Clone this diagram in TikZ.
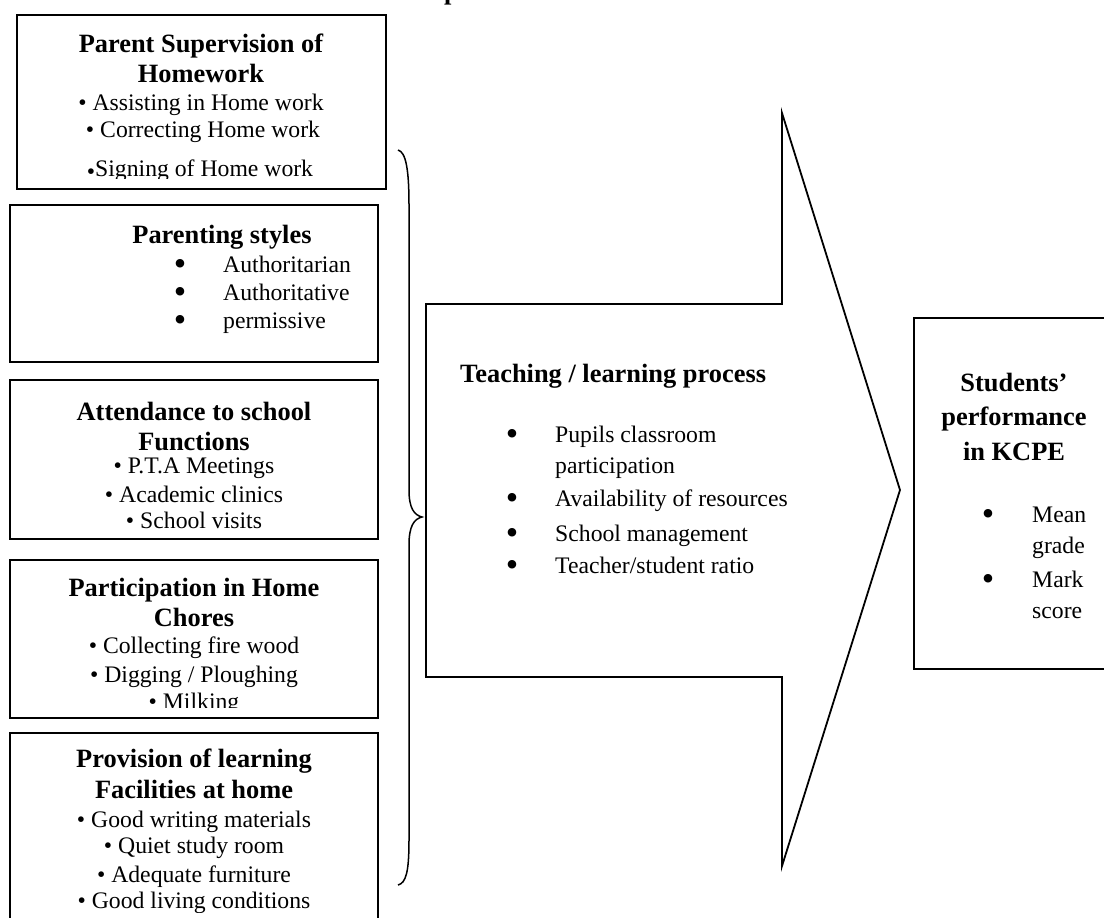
\documentclass[tikz,border=0pt]{standalone}
\usepackage{fontspec}
\setmainfont{Liberation Serif}
\newcommand{\bigbul}{\raisebox{-3pt}[13pt][0pt]{\scalebox{1.5}{•}}}
\begin{document}
\begin{tikzpicture}[x=1pt,y=-1pt,
  box/.style={draw, line width=1.8pt, inner sep=0pt, outer sep=0pt},
  ttl/.style={font=\fontsize{26.4pt}{30pt}\selectfont\bfseries, anchor=base, inner sep=0pt},
  ttw/.style={ttl, anchor=base west},
  txt/.style={font=\fontsize{23.7pt}{28pt}\selectfont, anchor=base, inner sep=0pt},
  txw/.style={txt, anchor=base west},
  shape line/.style={line width=1.8pt, line join=miter},
  brace line/.style={line width=1.5pt}]
\useasboundingbox (0,0) rectangle (1104,918);
\clip (0,0) rectangle (1104,918);

% cut-off heading fragment
\node[ttw] (frag) at (444,-1) {p};

% ---- box 1
\node[box, minimum width=369pt, minimum height=174pt] (b1) at (201.5,102) {};
\begin{scope}
\clip (17,15) rectangle (386,178);
\node[ttl] (b1a) at (201,52) {Parent Supervision of};
\node[ttl] (b1b) at (201,82) {Homework};
\node[txt] (b1c) at (201,110) {• Assisting in Home work};
\node[txt] (b1d) at (203,137) {• Correcting Home work};
\node[txt] (b1e) at (200,176) {\raisebox{-3.5pt}{•}Signing of Home work};
\end{scope}

% ---- box 2
\node[box, minimum width=368pt, minimum height=157pt] (b2) at (194,283.5) {};
\node[ttl] (b2a) at (222,243) {Parenting styles};
\foreach \y/\t [count=\i] in {272/Authoritarian, 300/Authoritative, 328/permissive}{
  \node[txt] (b2u\i) at (180,\y) {\bigbul};
  \node[txw] (b2t\i) at (223,\y) {\t};
}

% ---- box 3
\node[box, minimum width=368pt, minimum height=159pt] (b3) at (194,459.5) {};
\node[ttl] (b3a) at (194,420) {Attendance to school};
\node[ttl] (b3b) at (194,450) {Functions};
\node[txt] (b3c) at (194,473) {• P.T.A Meetings};
\node[txt] (b3d) at (194,502) {• Academic clinics};
\node[txt] (b3e) at (194,528) {• School visits};

% ---- box 4
\node[box, minimum width=368pt, minimum height=158pt] (b4) at (194,639) {};
\begin{scope}
\clip (10,560) rectangle (378,707);
\node[ttl] (b4a) at (194,596) {Participation in Home};
\node[ttl] (b4b) at (194,626) {Chores};
\node[txt] (b4c) at (194,653) {• Collecting fire wood};
\node[txt] (b4d) at (194,682) {• Digging / Ploughing};
\node[txt] (b4e) at (194,709) {• Milking};
\end{scope}

% ---- box 5
\node[box, minimum width=368pt, minimum height=217pt] (b5) at (194,841.5) {};
\begin{scope}
\clip (10,733) rectangle (378,912);
\node[ttl] (b5a) at (194,767) {Provision of learning};
\node[ttl] (b5b) at (194,798) {Facilities at home};
\node[txt] (b5c) at (194,827) {• Good writing materials};
\node[txt] (b5d) at (194,853) {• Quiet study room};
\node[txt] (b5e) at (194,882) {• Adequate furniture};
\node[txt] (b5f) at (194,908) {• Good living conditions};
\end{scope}

% ---- brace
\draw[brace line] (398,150) .. controls (406,152) and (409,170) .. (409,205)
  -- (409,490) .. controls (409,508) and (414,515) .. (422,517)
  .. controls (414,519) and (409,526) .. (409,545)
  -- (409,840) .. controls (409,872) and (406,883) .. (398,885);

% ---- big arrow
\draw[shape line] (426,304) -- (782,304) -- (782,113) -- (900,490) -- (782,866)
  -- (782,677) -- (426,677) -- cycle;
\node[ttw] (ara) at (460,382) {Teaching / learning process};
\node[txt] (aru1) at (512,442) {\bigbul};
\node[txw] (art1) at (555,442) {Pupils classroom};
\node[txw] (art1b) at (555,473) {participation};
\foreach \y/\t [count=\i from 2] in {506/Availability of resources, 541/School management, 573/Teacher\slash student ratio}{
  \node[txt] (aru\i) at (512,\y) {\bigbul};
  \node[txw] (art\i) at (555,\y) {\t};
}

% ---- right box
\node[box, minimum width=200pt, minimum height=351pt] (rb) at (1014,493.5) {};
\node[ttl] (rba) at (1014,391) {Students’};
\node[ttl] (rbb) at (1014,425) {performance};
\node[ttl] (rbc) at (1014,460) {in KCPE};
\node[txt] (rbu1) at (988,522) {\bigbul};
\node[txw] (rbt1) at (1032,522) {Mean};
\node[txw] (rbt1b) at (1032,553) {grade};
\node[txt] (rbu2) at (988,587) {\bigbul};
\node[txw] (rbt2) at (1032,587) {Mark};
\node[txw] (rbt2b) at (1032,618) {score};
\end{tikzpicture}
\end{document}
